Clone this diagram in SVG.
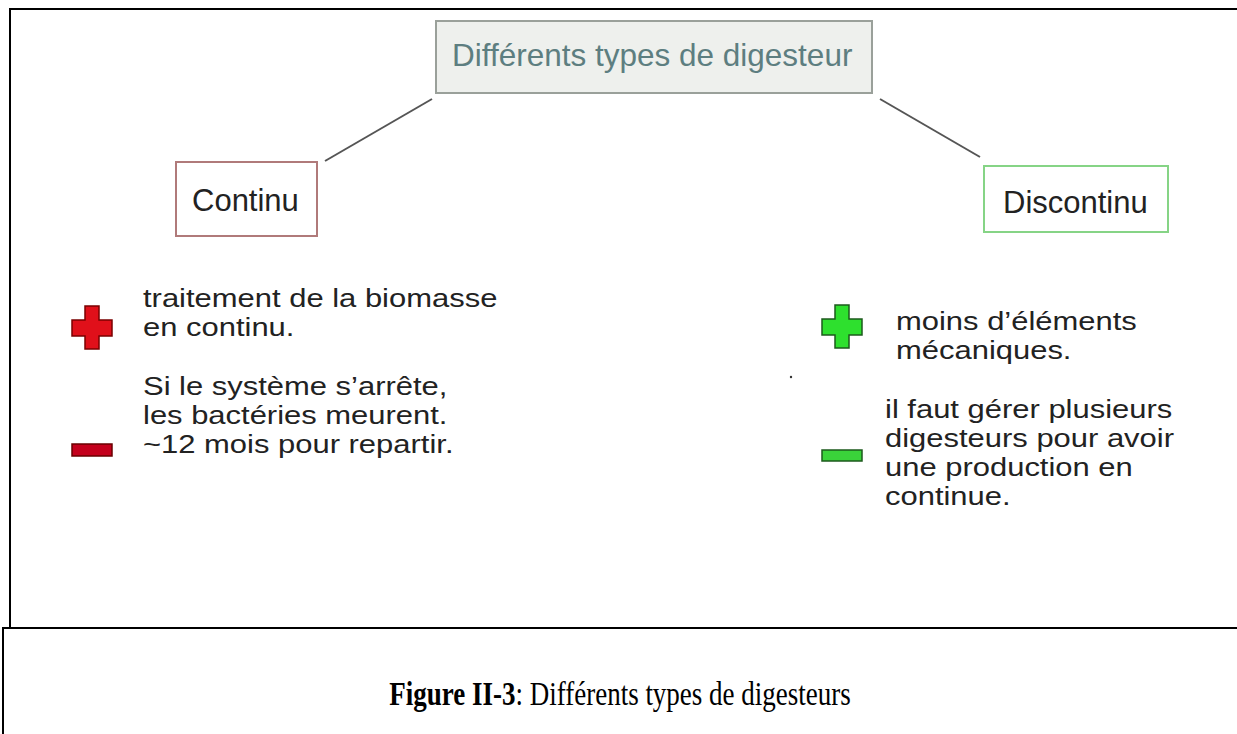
<svg xmlns="http://www.w3.org/2000/svg" width="1237" height="734" viewBox="0 0 1237 734">
<style>
.frame{stroke:#000;stroke-width:2;fill:none}
.box{stroke-width:2}
.t{font-family:"Liberation Sans",Arial,sans-serif;font-size:31px;fill:#222}
.b{font-family:"Liberation Sans",Arial,sans-serif;font-size:25.8px;fill:#222}
.title{font-family:"Liberation Sans",Arial,sans-serif;font-size:31.5px;fill:#5d7e80}
.conn{stroke:#555;stroke-width:2;fill:none}
.cap{font-family:"Liberation Serif","Times New Roman",serif;font-size:27px;fill:#000}
</style>
<rect width="1237" height="734" fill="#fff"/>
<g id="frame">
<line class="frame" x1="10" y1="9" x2="1237" y2="9"/>
<line class="frame" x1="10" y1="8" x2="10" y2="628"/>
<line class="frame" x1="3" y1="628" x2="1237" y2="628"/>
<line class="frame" x1="3" y1="627" x2="3" y2="734"/>
</g>
<g id="connectors">
<line class="conn" x1="325" y1="161" x2="432" y2="99"/>
<line class="conn" x1="880" y1="99" x2="980" y2="157"/>
</g>
<g id="node-title">
<rect class="box" x="436" y="21" width="436" height="72" fill="#eef0ed" stroke="#9aa09a"/>
<text class="title" x="452" y="66">Différents types de digesteur</text>
</g>
<g id="node-continu">
<rect class="box" x="176" y="162" width="141" height="74" fill="#fff" stroke="#b07a7a"/>
<text class="t" x="192" y="211">Continu</text>
</g>
<g id="node-discontinu">
<rect class="box" x="984" y="166" width="184" height="66" fill="#fff" stroke="#86d486"/>
<text class="t" x="1003" y="213">Discontinu</text>
</g>
<g id="continu-plus">
<path d="M85,306 h14 v14 h13 v16 h-13 v13 h-14 v-13 h-13 v-16 h13 z" fill="#e0101a" stroke="#7a0000" stroke-width="1.5"/>
<g transform="translate(143,0) scale(1.2,1)">
<text class="b" x="0" y="307">traitement de la biomasse</text>
<text class="b" x="0" y="336">en continu.</text>
</g>
</g>
<g id="continu-minus">
<rect x="72" y="444" width="40" height="12" fill="#c4001c" stroke="#6a0000" stroke-width="1.5"/>
<g transform="translate(143,0) scale(1.2,1)">
<text class="b" x="0" y="395">Si le système s’arrête,</text>
<text class="b" x="0" y="424">les bactéries meurent.</text>
<text class="b" x="0" y="453">~12 mois pour repartir.</text>
</g>
</g>
<g id="discontinu-plus">
<path d="M835,305 h14 v14 h13 v16 h-13 v13 h-14 v-13 h-13 v-16 h13 z" fill="#2ee02e" stroke="#1d5a1d" stroke-width="1.5"/>
<g transform="translate(896,0) scale(1.2,1)">
<text class="b" x="0" y="330">moins d’éléments</text>
<text class="b" x="0" y="359">mécaniques.</text>
</g>
</g>
<g id="discontinu-minus">
<rect x="822" y="450" width="40" height="11" fill="#3ad33a" stroke="#1d5a1d" stroke-width="1.5"/>
<g transform="translate(885,0) scale(1.2,1)">
<text class="b" x="0" y="418">il faut gérer plusieurs</text>
<text class="b" x="0" y="447">digesteurs pour avoir</text>
<text class="b" x="0" y="476">une production en</text>
<text class="b" x="0" y="505">continue.</text>
</g>
</g>
<circle cx="791" cy="377" r="1.2" fill="#333"/>
<g id="caption">
<text class="cap" transform="translate(620,705) scale(1,1.25)" text-anchor="middle"><tspan font-weight="bold">Figure II-3</tspan>: Différents types de digesteurs</text>
</g>
</svg>
